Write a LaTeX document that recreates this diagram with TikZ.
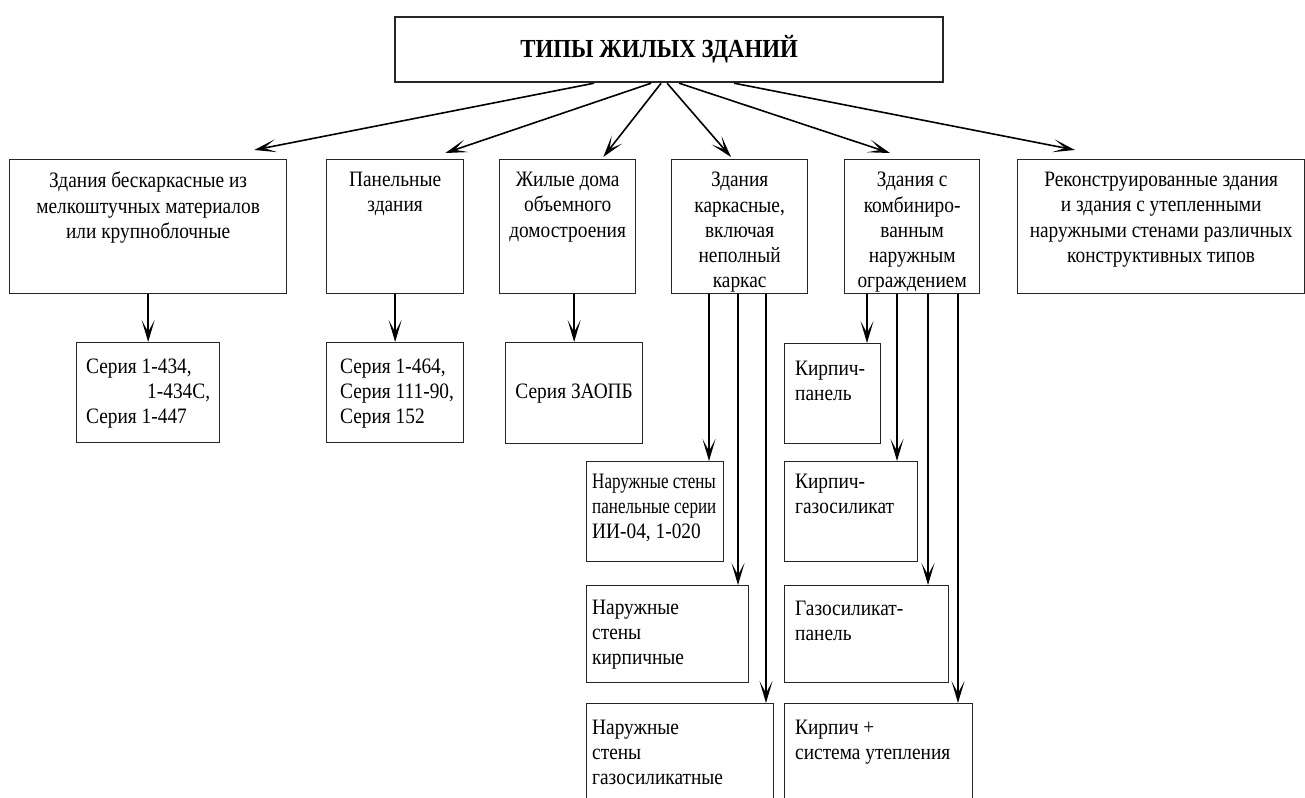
\documentclass[tikz,border=0pt]{standalone}
\usepackage{fontspec}
\setmainfont[FakeStretch=0.88]{Liberation Serif}
\usetikzlibrary{arrows.meta,positioning}
\tikzset{
  box/.style={draw=black!85,line width=1.3pt,anchor=north west,inner sep=0pt},
  txt/.style={anchor=north,align=center,inner sep=0pt,font=\fontsize{22}{25.3}\selectfont},
  ltxt/.style={anchor=north west,align=left,inner sep=0pt,font=\fontsize{22}{25}\selectfont},
  arr/.style={line width=1.6pt,-{Stealth[length=22pt,width=13pt,inset=12pt]}},
}
\begin{document}
\begin{tikzpicture}[x=1pt,y=-1pt]
  \useasboundingbox (0,0) rectangle (1305,797);
  \clip (0,0) rectangle (1305,797);
  % top
  \node[box,at={(394,16)},line width=2.2pt,minimum width=548pt,minimum height=65pt,
    font=\bfseries\fontsize{26}{30}\selectfont] (tipy) {ТИПЫ ЖИЛЫХ ЗДАНИЙ\hspace*{20pt}};

  % first row
  %boxes
  \node[box,at={(9,159)},minimum width=277pt,minimum height=134pt] (bezk) {};
  \node[box,at={(326,159)},minimum width=137pt,minimum height=134pt] (panel) {};
  \node[box,at={(499,159)},minimum width=136pt,minimum height=134pt] (obyem) {};
  \node[box,at={(671,159)},minimum width=136pt,minimum height=134pt] (kark) {};
  \node[box,at={(844,159)},minimum width=135pt,minimum height=134pt] (komb) {};
  \node[box,at={(1017,159)},minimum width=287pt,minimum height=134pt] (rekon) {};
  %labels
  \node[txt,below=13pt of bezk.north] (bezkt) {Здания бескаркасные из\\мелкоштучных материалов\\или крупноблочные};
  \node[txt,below=13pt of panel.north] (panelt) {Панельные\\здания};
  \node[txt,below=13pt of obyem.north] (obyemt) {Жилые дома\\объемного\\домостроения};
  \node[txt,below=13pt of kark.north] (karkt) {Здания\\каркасные,\\включая\\неполный\\каркас};
  \node[txt,below=13pt of komb.north] (kombt) {Здания с\\комбиниро-\\ванным\\наружным\\ограждением};
  \node[txt,below=13pt of rekon.north] (rekont) {Реконструированные здания\\и здания с утепленными\\наружными стенами различных\\конструктивных типов};
  %edges
  \draw[arr] ([xshift=-75pt]tipy.south) -- ([xshift=-33pt,yshift=9pt]bezk.north east);
  \draw[arr] ([xshift=-18pt]tipy.south) -- ([xshift=-19pt,yshift=6pt]panel.north east);
  \draw[arr] ([xshift=-8pt]tipy.south) -- ([xshift=-33pt,yshift=2pt]obyem.north east);
  \draw[arr] ([xshift=-2pt]tipy.south) -- ([xshift=60pt,yshift=2pt]kark.north west);
  \draw[arr] ([xshift=10pt]tipy.south) -- ([xshift=46pt,yshift=6pt]komb.north west);
  \draw[arr] ([xshift=65pt]tipy.south) -- ([xshift=58pt,yshift=9pt]rekon.north west);

  % series
  %boxes
  \node[box,at={(76,342)},minimum width=143pt,minimum height=100pt] (ser1) {};
  \node[box,at={(326,342)},minimum width=137pt,minimum height=100pt] (ser2) {};
  \node[box,at={(505,342)},minimum width=137pt,minimum height=101pt] (ser3) {};
  %labels
  \node[ltxt,below right=17pt and 10pt of ser1.north west] (ser1t) {Серия 1-434,\\\hspace*{61pt}1-434С,\\Серия 1-447};
  \node[ltxt,below right=17pt and 14pt of ser2.north west] (ser2t) {Серия 1-464,\\Серия 111-90,\\Серия 152};
  \node[txt,anchor=center,at={(ser3.center)}] (ser3t) {Серия ЗАОПБ};
  %edges
  \draw[arr] (bezk.south) -- (ser1.north);
  \draw[arr] (panel.south) -- (ser2.north);
  \draw[arr] (obyem.south -| ser3.north) -- (ser3.north);

  % frame walls
  %boxes
  \node[box,at={(586,461)},minimum width=137pt,minimum height=100pt] (nps) {};
  \node[box,at={(586,585)},minimum width=162pt,minimum height=97pt] (nsk) {};
  \node[box,at={(586,703)},minimum width=187pt,minimum height=110pt] (nsg) {};
  %labels
  \node[ltxt,below right=13pt and 6pt of nps.north west] (npst) {\scalebox{0.88}[1]{Наружные стены}\\\scalebox{0.88}[1]{панельные серии}\\ИИ-04, 1-020};
  \node[ltxt,below right=15pt and 6pt of nsk.north west] (nskt) {Наружные\\стены\\кирпичные};
  \node[ltxt,below right=17pt and 6pt of nsg.north west] (nsgt) {Наружные\\стены\\газосиликатные};
  %edges
  \coordinate (k1) at ([xshift=38pt]kark.south west);
  \coordinate (k2) at ([xshift=67pt]kark.south west);
  \coordinate (k3) at ([xshift=95pt]kark.south west);
  \draw[arr] (k1) -- (k1 |- nps.north);
  \draw[arr] (k2) -- (k2 |- nsk.north);
  \draw[arr] (k3) -- (k3 |- nsg.north);

  % combined walls
  %boxes
  \node[box,at={(784,343)},minimum width=96pt,minimum height=100pt] (kp) {};
  \node[box,at={(784,461)},minimum width=133pt,minimum height=100pt] (kg) {};
  \node[box,at={(784,585)},minimum width=164pt,minimum height=97pt] (gp) {};
  \node[box,at={(784,703)},minimum width=188pt,minimum height=110pt] (kut) {};
  %labels
  \node[ltxt,below right=18pt and 11pt of kp.north west] (kpt) {Кирпич-\\панель};
  \node[ltxt,below right=13pt and 11pt of kg.north west] (kgt) {Кирпич-\\газосиликат};
  \node[ltxt,below right=16pt and 11pt of gp.north west] (gpt) {Газосиликат-\\панель};
  \node[ltxt,below right=17pt and 11pt of kut.north west] (kutt) {Кирпич +\\система утепления};
  %edges
  \coordinate (c1) at ([xshift=23pt]komb.south west);
  \coordinate (c2) at ([xshift=53pt]komb.south west);
  \coordinate (c3) at ([xshift=84pt]komb.south west);
  \coordinate (c4) at ([xshift=114pt]komb.south west);
  \draw[arr] (c1) -- (c1 |- kp.north);
  \draw[arr] (c2) -- (c2 |- kg.north);
  \draw[arr] (c3) -- (c3 |- gp.north);
  \draw[arr] (c4) -- (c4 |- kut.north);
\end{tikzpicture}
\end{document}
